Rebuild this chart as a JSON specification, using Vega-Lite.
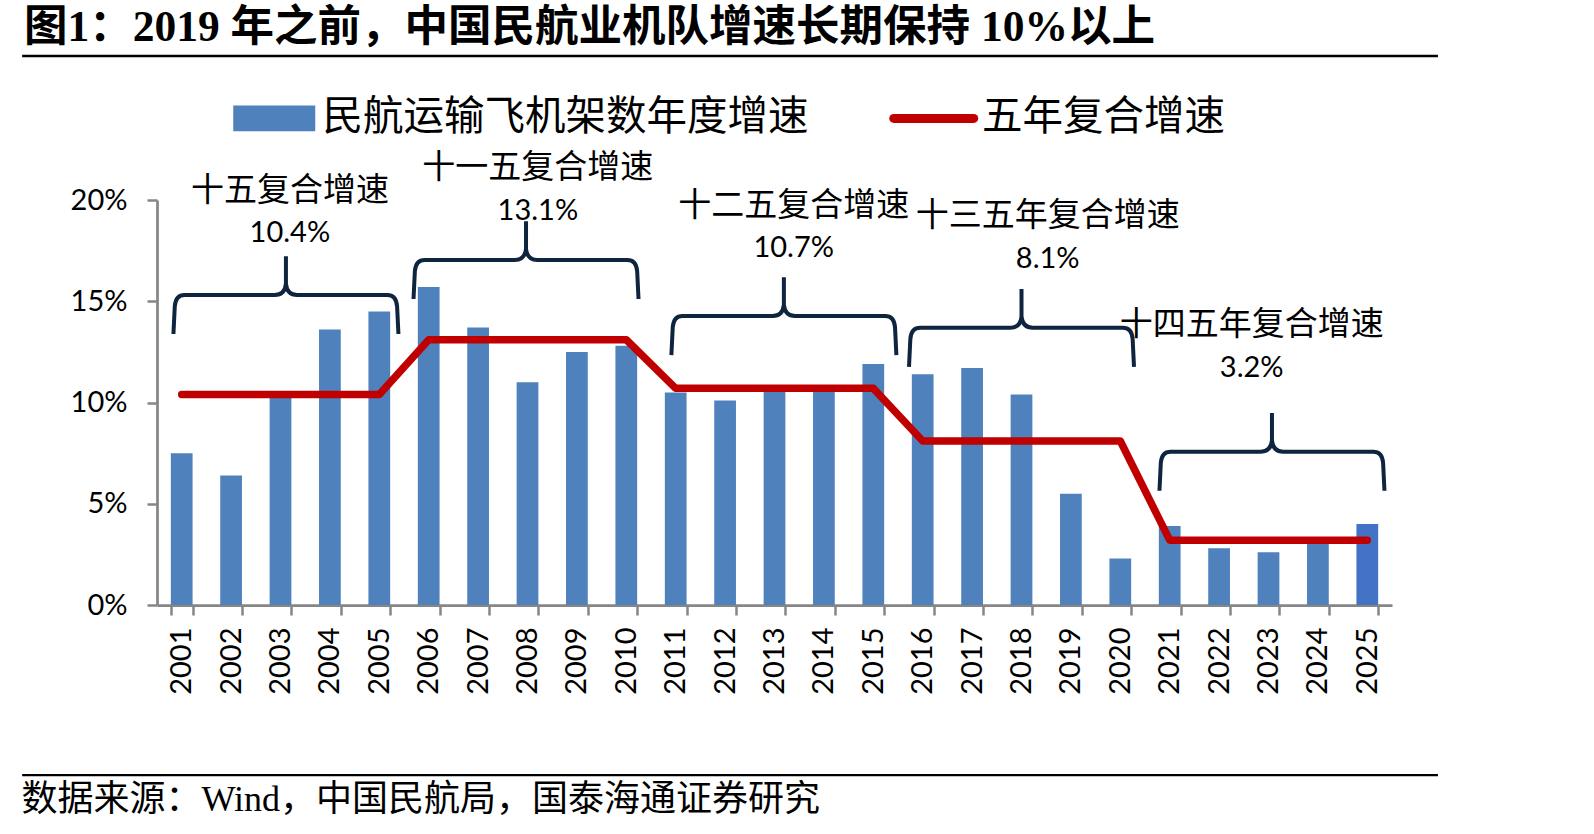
{
  "$schema": "https://vega.github.io/schema/vega-lite/v6.json",
  "autosize": "none",
  "width": 1235,
  "height": 405,
  "padding": {"left": 157, "top": 200, "right": 202, "bottom": 229},
  "background": "white",
  "config": {"view": {"stroke": null}},
  "title": {
    "text": "图1：2019 年之前，中国民航业机队增速长期保持 10%以上",
    "anchor": "start",
    "frame": "group",
    "orient": "top",
    "offset": 0,
    "baseline": "middle",
    "dx": -133,
    "dy": 17,
    "font": "Liberation Serif, Noto Sans CJK SC",
    "fontSize": 43.5,
    "fontWeight": "bold",
    "color": "#000000"
  },
  "datasets": {
    "fleet": [
      {"year": "2001", "growth": 7.5, "cagr": 10.4},
      {"year": "2002", "growth": 6.4, "cagr": 10.4},
      {"year": "2003", "growth": 10.3, "cagr": 10.4},
      {"year": "2004", "growth": 13.6, "cagr": 10.4},
      {"year": "2005", "growth": 14.5, "cagr": 10.4},
      {"year": "2006", "growth": 15.7, "cagr": 13.1},
      {"year": "2007", "growth": 13.7, "cagr": 13.1},
      {"year": "2008", "growth": 11.0, "cagr": 13.1},
      {"year": "2009", "growth": 12.5, "cagr": 13.1},
      {"year": "2010", "growth": 12.8, "cagr": 13.1},
      {"year": "2011", "growth": 10.5, "cagr": 10.7},
      {"year": "2012", "growth": 10.1, "cagr": 10.7},
      {"year": "2013", "growth": 10.6, "cagr": 10.7},
      {"year": "2014", "growth": 10.6, "cagr": 10.7},
      {"year": "2015", "growth": 11.9, "cagr": 10.7},
      {"year": "2016", "growth": 11.4, "cagr": 8.1},
      {"year": "2017", "growth": 11.7, "cagr": 8.1},
      {"year": "2018", "growth": 10.4, "cagr": 8.1},
      {"year": "2019", "growth": 5.5, "cagr": 8.1},
      {"year": "2020", "growth": 2.3, "cagr": 8.1},
      {"year": "2021", "growth": 3.9, "cagr": 3.2},
      {"year": "2022", "growth": 2.8, "cagr": 3.2},
      {"year": "2023", "growth": 2.6, "cagr": 3.2},
      {"year": "2024", "growth": 3.3, "cagr": 3.2},
      {"year": "2025", "growth": 4.0, "cagr": 3.2}
    ],
    "notes": [
      {"period": "十五复合增速", "rate": "10.4%", "bx": 2003.11, "by": 15.31, "tx": 2003.19, "ty": 18.35},
      {"period": "十一五复合增速", "rate": "13.1%", "bx": 2007.97, "by": 17.04, "tx": 2008.21, "ty": 19.46},
      {"period": "十二五复合增速", "rate": "10.7%", "bx": 2013.19, "by": 14.27, "tx": 2013.39, "ty": 17.61},
      {"period": "十三五年复合增速", "rate": "8.1%", "bx": 2018.0, "by": 13.69, "tx": 2018.53, "ty": 17.1},
      {"period": "十四五年复合增速", "rate": "3.2%", "bx": 2023.07, "by": 7.57, "tx": 2022.66, "ty": 11.72}
    ]
  },
  "resolve": {"scale": {"x": "independent"}},
  "layer": [
    {
      "data": {"name": "fleet"},
      "encoding": {
        "x": {
          "field": "year",
          "type": "ordinal",
          "scale": {"paddingInner": 0.56, "paddingOuter": 0.28},
          "axis": {
            "title": "数据来源：Wind，中国民航局，国泰海通证券研究",
            "titleX": -136,
            "titleY": 194,
            "titleAlign": "left",
            "titleBaseline": "middle",
            "titleAngle": 0,
            "titleFont": "Liberation Serif, Noto Sans CJK SC",
            "titleFontSize": 36,
            "titleFontWeight": "normal",
            "titleColor": "#000000",
            "tickBand": "extent",
            "labelAngle": -90,
            "labelAlign": "right",
            "labelBaseline": "middle",
            "labelFont": "Lato",
            "labelFontSize": 29,
            "labelColor": "#000000",
            "labelPadding": 12,
            "tickSize": 10,
            "tickColor": "#868686",
            "tickWidth": 2.5,
            "domainColor": "#868686",
            "domainWidth": 2.75,
            "grid": false
          }
        },
        "y": {
          "type": "quantitative",
          "scale": {"domain": [0, 20], "nice": false},
          "title": null,
          "axis": {
            "title": null,
            "values": [0, 5, 10, 15, 20],
            "labelExpr": "datum.value + '%'",
            "labelFont": "Lato",
            "labelFontSize": 29,
            "labelColor": "#000000",
            "labelPadding": 20,
            "tickSize": 10,
            "tickColor": "#868686",
            "tickWidth": 2.5,
            "domainColor": "#868686",
            "domainWidth": 2.75,
            "grid": false
          }
        }
      },
      "layer": [
        {
          "mark": {"type": "bar"},
          "encoding": {
            "y": {
              "field": "growth",
              "type": "quantitative",
              "scale": {"domain": [0, 20], "nice": false},
              "title": null,
              "axis": {
                "title": null,
                "values": [0, 5, 10, 15, 20],
                "labelExpr": "datum.value + '%'",
                "labelFont": "Lato",
                "labelFontSize": 29,
                "labelColor": "#000000",
                "labelPadding": 20,
                "tickSize": 10,
                "tickColor": "#868686",
                "tickWidth": 2.5,
                "domainColor": "#868686",
                "domainWidth": 2.75,
                "grid": false
              }
            },
            "color": {
              "condition": {"test": "datum.year === '2025'", "value": "#4472C4"},
              "datum": "民航运输飞机架数年度增速",
              "type": "nominal",
              "scale": {"domain": ["民航运输飞机架数年度增速", "五年复合增速"], "range": ["#4F81BD", "#C00000"]},
              "legend": {
                "title": null,
                "orient": "none",
                "direction": "horizontal",
                "legendX": 97,
                "legendY": -102,
                "padding": 0,
                "labelFont": "Noto Sans CJK SC",
                "labelFontSize": 40.5,
                "labelColor": "#000000",
                "labelLimit": 1000,
                "labelOffset": 28,
                "columnPadding": 66.5,
                "symbolSize": 6724,
                "symbolStrokeWidth": 0,
                "encode": {
                  "symbols": {
                    "update": {
                      "shape": {"signal": "datum.value === '五年复合增速' ? 'M-1,0L1,0' : 'M-1,-0.317L1,-0.317L1,0.317L-1,0.317Z'"},
                      "size": {"signal": "datum.value === '五年复合增速' ? 6400 : 6724"},
                      "fill": {"signal": "datum.value === '五年复合增速' ? 'transparent' : '#4F81BD'"},
                      "stroke": {"signal": "datum.value === '五年复合增速' ? '#C00000' : 'transparent'"},
                      "strokeWidth": {"signal": "datum.value === '五年复合增速' ? 9 : 0"},
                      "strokeCap": {"value": "round"},
                      "opacity": {"value": 1}
                    }
                  }
                }
              }
            }
          }
        },
        {
          "mark": {"type": "line", "strokeWidth": 7.5, "strokeCap": "round", "strokeJoin": "round"},
          "encoding": {
            "y": {"field": "cagr", "type": "quantitative", "scale": {"domain": [0, 20], "nice": false}, "title": null},
            "color": {"datum": "五年复合增速", "type": "nominal"}
          }
        }
      ]
    },
    {
      "data": {"name": "notes"},
      "layer": [
        {
          "mark": {
            "type": "point",
            "shape": "M-1,0.347L-0.988,0.1Q-0.98,0,-0.9,0L-0.1,0Q-0.01,0,0,-0.1L0,-0.345M0,-0.1Q0.01,0,0.1,0L0.9,0Q0.98,0,0.988,0.1L1,0.347",
            "size": 50625,
            "filled": false,
            "opacity": 1,
            "stroke": "#0F243E",
            "strokeWidth": 4
          },
          "encoding": {
            "x": {"field": "bx", "type": "quantitative", "scale": {"domain": [2000.5, 2025.5], "nice": false, "zero": false}, "axis": null},
            "y": {"field": "by", "type": "quantitative", "scale": {"domain": [0, 20], "nice": false}, "title": null}
          }
        },
        {
          "mark": {"type": "text", "font": "Lato", "fontSize": 29, "color": "#000000", "align": "center", "baseline": "middle"},
          "encoding": {
            "x": {"field": "tx", "type": "quantitative", "scale": {"domain": [2000.5, 2025.5], "nice": false, "zero": false}, "axis": null},
            "y": {"field": "ty", "type": "quantitative", "scale": {"domain": [0, 20], "nice": false}, "title": null},
            "text": {"field": "rate"}
          }
        },
        {
          "mark": {"type": "text", "font": "Noto Sans CJK SC", "fontSize": 33, "color": "#000000", "align": "center", "baseline": "middle", "dy": -42.5},
          "encoding": {
            "x": {"field": "tx", "type": "quantitative", "scale": {"domain": [2000.5, 2025.5], "nice": false, "zero": false}, "axis": null},
            "y": {"field": "ty", "type": "quantitative", "scale": {"domain": [0, 20], "nice": false}, "title": null},
            "text": {"field": "period"}
          }
        },
        {
          "data": {"values": [{}]},
          "mark": {"type": "rule", "color": "#000000", "strokeWidth": 2.5},
          "encoding": {
            "x": {"datum": 1997.77, "type": "quantitative", "scale": {"domain": [2000.5, 2025.5], "nice": false, "zero": false}, "axis": null},
            "x2": {"datum": 2026.43},
            "y": {"datum": 27.11, "type": "quantitative", "scale": {"domain": [0, 20], "nice": false}, "title": null}
          }
        },
        {
          "data": {"values": [{}]},
          "mark": {"type": "rule", "color": "#000000", "strokeWidth": 2.2},
          "encoding": {
            "x": {"datum": 1997.77, "type": "quantitative", "scale": {"domain": [2000.5, 2025.5], "nice": false, "zero": false}, "axis": null},
            "x2": {"datum": 2026.43},
            "y": {"datum": -8.4, "type": "quantitative", "scale": {"domain": [0, 20], "nice": false}, "title": null}
          }
        }
      ]
    }
  ]
}
